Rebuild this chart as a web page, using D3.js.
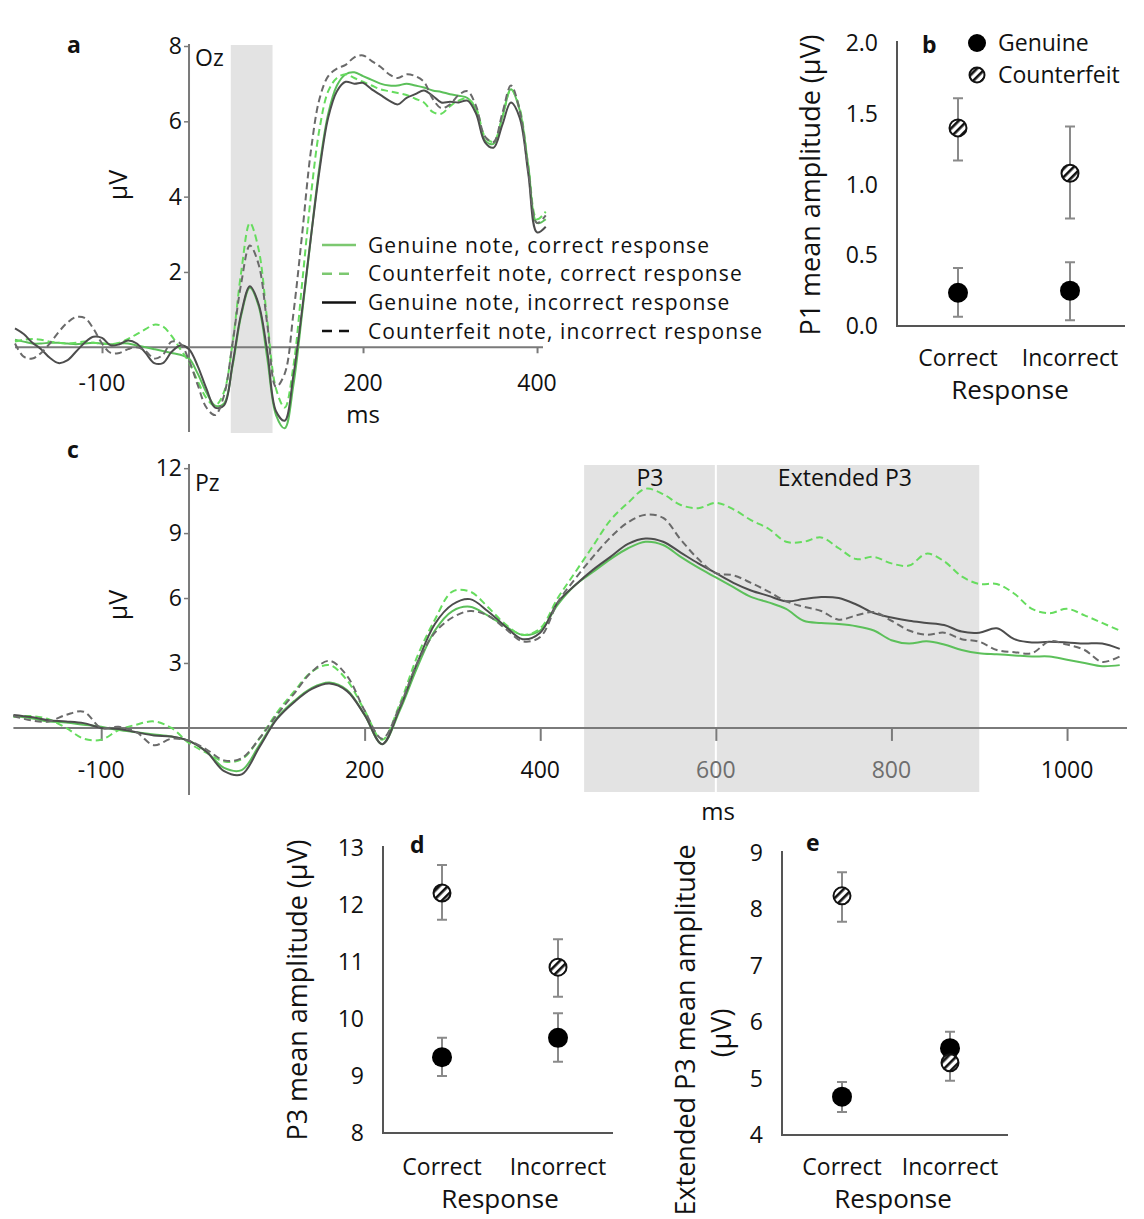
<!DOCTYPE html>
<html><head><meta charset="utf-8">
<script src="https://cdn.jsdelivr.net/npm/d3@7"></script>
<style>body{margin:0;background:#fff}svg{display:block}text{font-family:"Open Sans",sans-serif;fill:#111}</style>
</head><body><svg id="c" width="1144" height="1219"></svg>
<script>
// ---------- DATA ----------
const seriesNames = ["Genuine note, correct response","Counterfeit note, correct response","Genuine note, incorrect response","Counterfeit note, incorrect response"];
// Panel a (Oz)
const timeA = [-200,-190,-180,-170,-160,-150,-140,-130,-120,-110,-100,-90,-80,-70,-60,-50,-40,-30,-20,-10,0,10,20,30,40,50,60,70,80,90,100,110,120,130,140,150,160,170,180,190,200,210,220,230,240,250,260,270,280,290,300,310,320,330,340,350,360,370,380,390,400,410];
const ozGenCorrect = [0.2,0.15,0.1,0.1,0.12,0.12,0.1,0.08,0.1,0.12,0.1,0.08,0.1,0.1,0.05,0.0,-0.05,-0.1,-0.15,-0.2,-0.3,-0.7,-1.2,-1.55,-1.5,-0.5,0.85,1.58,1.1,-0.3,-1.8,-2.15,-1.0,0.9,2.9,4.8,6.2,6.95,7.25,7.3,7.2,7.1,7.0,6.95,6.95,7.0,6.95,6.9,6.82,6.78,6.72,6.68,6.62,6.3,5.5,5.4,6.1,6.85,6.3,4.8,3.3,3.4];
const ozCftCorrect = [0.15,0.2,0.22,0.2,0.15,0.12,0.1,0.12,0.15,0.12,0.1,0.08,0.12,0.22,0.35,0.48,0.6,0.55,0.3,-0.05,-0.4,-0.9,-1.35,-1.55,-1.2,0.1,2.0,3.3,2.6,0.7,-1.1,-1.6,-0.5,1.7,4.0,5.8,6.8,7.15,7.25,7.15,7.05,6.95,6.85,6.8,6.75,6.7,6.6,6.5,6.25,6.2,6.4,6.55,6.6,6.35,5.6,5.45,6.1,6.85,6.35,4.8,3.4,3.6];
const ozGenIncorrect = [0.5,0.35,0.12,-0.05,-0.28,-0.42,-0.35,-0.12,0.12,0.28,0.25,0.05,0.08,0.18,0.1,-0.15,-0.42,-0.42,-0.12,0.05,-0.05,-0.5,-1.1,-1.6,-1.55,-0.45,0.9,1.62,1.15,-0.12,-1.7,-1.95,-0.75,1.0,2.9,4.7,6.1,6.8,7.05,7.0,7.02,6.85,6.7,6.55,6.45,6.62,6.72,6.82,6.68,6.5,6.52,6.5,6.55,6.2,5.45,5.3,5.9,6.5,6.1,4.6,3.05,3.2];
const ozCftIncorrect = [0.1,-0.25,-0.3,-0.15,0.1,0.4,0.65,0.8,0.78,0.5,0.1,-0.15,-0.15,-0.05,0.0,-0.1,-0.3,-0.2,0.15,0.1,-0.35,-1.0,-1.6,-1.8,-1.3,0.1,1.7,2.7,2.2,0.6,-1.05,-0.7,0.9,3.0,5.2,6.6,7.2,7.4,7.5,7.7,7.75,7.6,7.45,7.25,7.15,7.25,7.2,7.05,6.6,6.35,6.45,6.7,6.8,6.4,5.6,5.45,6.2,6.95,6.3,4.7,3.3,3.5];
const ozXTicks = [-100,200,400];
const ozYTicks = [2,4,6,8];
const p1Window = [48,96];
// Panel c (Pz)
const timeC = [-200,-180,-160,-140,-120,-100,-80,-60,-40,-20,0,20,40,60,80,100,120,140,160,180,200,220,240,260,280,300,320,340,360,380,400,420,440,460,480,500,520,540,560,580,600,620,640,660,680,700,720,740,760,780,800,820,840,860,880,900,920,940,960,980,1000,1020,1040,1060];
const pzGenCorrect = [0.55,0.45,0.3,0.25,0.15,0.05,-0.1,-0.2,-0.3,-0.4,-0.6,-1.1,-1.85,-1.95,-0.8,0.45,1.25,1.85,2.1,1.75,0.6,-0.75,0.8,2.8,4.5,5.4,5.6,5.2,4.7,4.3,4.5,5.7,6.6,7.2,7.8,8.3,8.6,8.45,7.9,7.4,6.95,6.5,6.05,5.8,5.5,4.95,4.85,4.8,4.7,4.5,4.05,3.9,4.0,3.85,3.6,3.45,3.4,3.35,3.3,3.3,3.15,3.0,2.85,2.9];
const pzCftCorrect = [0.5,0.55,0.4,0.0,-0.5,-0.55,-0.1,0.15,0.3,0.0,-0.7,-1.15,-1.55,-1.45,-0.5,0.7,1.7,2.6,2.9,2.2,0.8,-0.55,1.1,3.3,5.0,6.3,6.3,5.6,4.8,4.3,4.6,6.0,7.2,8.4,9.6,10.4,11.05,10.8,10.3,10.15,10.4,10.1,9.6,9.2,8.6,8.6,8.8,8.3,7.8,7.9,7.6,7.5,8.05,7.7,7.0,6.65,6.65,6.2,5.5,5.3,5.5,5.2,4.85,4.5];
const pzGenIncorrect = [0.6,0.5,0.35,0.3,0.22,0.0,-0.05,-0.2,-0.35,-0.4,-0.6,-1.1,-2.0,-2.15,-0.9,0.4,1.2,1.8,2.05,1.7,0.6,-0.75,0.9,3.0,4.8,5.7,5.95,5.4,4.7,4.1,4.4,5.8,6.6,7.3,7.9,8.5,8.75,8.6,8.1,7.6,7.15,6.7,6.35,6.1,5.85,5.95,6.05,6.0,5.7,5.3,5.1,4.95,4.85,4.75,4.45,4.4,4.6,4.1,3.95,3.98,3.95,3.9,3.9,3.65];
const pzCftIncorrect = [0.55,0.35,0.3,0.6,0.75,0.0,0.05,-0.2,-0.8,-0.5,-0.6,-1.0,-1.5,-1.4,-0.5,0.6,1.6,2.6,3.1,2.4,0.8,-0.5,1.0,3.0,4.4,5.1,5.4,5.2,4.6,4.0,4.2,5.8,6.9,7.9,8.8,9.5,9.85,9.7,8.7,7.8,7.15,7.05,6.7,6.3,5.85,5.6,5.4,5.0,5.2,5.35,4.95,4.5,4.3,4.4,4.1,3.98,3.6,3.5,3.45,4.0,3.85,3.6,3.05,3.3];
const pzXTicks = [-100,200,400,600,800,1000];
const pzYTicks = [3,6,9,12];
const p3Window = [450,600];
const extP3Window = [600,900];
// Point panels
const responses = ["Correct","Incorrect"];
const groups = ["Genuine","Counterfeit"];
const p1Genuine = [0.235,0.25], p1GenuineLo=[0.066,0.04], p1GenuineHi=[0.41,0.45];
const p1Cft = [1.40,1.08], p1CftLo=[1.17,0.76], p1CftHi=[1.61,1.41];
const p1Ticks = [0.0,0.5,1.0,1.5,2.0];
const p3Genuine = [9.33,9.67], p3GenuineLo=[9.0,9.25], p3GenuineHi=[9.67,10.1];
const p3Cft = [12.21,10.91], p3CftLo=[11.74,10.39], p3CftHi=[12.70,11.40];
const p3Ticks = [8,9,10,11,12,13];
const exGenuine = [4.68,5.54], exGenuineLo=[4.41,5.25], exGenuineHi=[4.94,5.83];
const exCft = [8.24,5.28], exCftLo=[7.78,4.96], exCftHi=[8.66,5.60];
const exTicks = [4,5,6,7,8,9];

// ---------- STYLE ----------
const colors = ["#5cc05a","#66dc5e","#4d4d4d","#6a6a6a"];
const dashes = [null,"7,4",null,"7,4"];
const axisCol = "#7a7a7a";
const FS = 23;
const svg = d3.select("#c");
const defs = svg.append("defs");
const pat = defs.append("pattern").attr("id","hatch").attr("patternUnits","userSpaceOnUse")
  .attr("width",6).attr("height",6).attr("patternTransform","rotate(45)");
pat.append("rect").attr("width",6).attr("height",6).attr("fill","#fff");
pat.append("rect").attr("x",0).attr("width",2.6).attr("height",6).attr("fill","#111");

function txt(g,x,y,s,o={}){
  const t=g.append("text").attr("x",x).attr("y",y).text(s)
   .attr("font-size",o.size||FS).attr("text-anchor",o.anchor||"start");
  if(o.weight) t.attr("font-weight",o.weight);
  if(o.fill) t.style("fill",o.fill);
  if(o.ls) t.attr("letter-spacing",o.ls);
  if(o.rot) t.attr("transform",`rotate(-90,${x},${y})`);
  return t;
}

// ---------- ERP panel ----------
function erp(cfg){
  const g = svg.append("g");
  const x = d3.scaleLinear().domain(cfg.xd).range(cfg.xr);
  const y = d3.scaleLinear().domain(cfg.yd).range(cfg.yr);
  cfg.windows.forEach(w=>{
    g.append("rect").attr("x",x(w[0])).attr("width",x(w[1])-x(w[0]))
      .attr("y",cfg.shadeTop).attr("height",cfg.shadeBot-cfg.shadeTop).attr("fill","#e3e3e3");
  });
  if(cfg.divider!=null) g.append("line").attr("x1",x(cfg.divider)).attr("x2",x(cfg.divider))
      .attr("y1",cfg.shadeTop).attr("y2",cfg.shadeBot).attr("stroke","#fff").attr("stroke-width",2);
  const xa = g.append("g").attr("transform",`translate(0,${y(0)})`)
    .call(d3.axisBottom(x).tickValues(cfg.xticks).tickSize(cfg.xtick).tickFormat(""));
  xa.select(".domain").attr("d",`M${cfg.xr[0]},0H${cfg.xaxisEnd}`).attr("stroke",axisCol).attr("stroke-width",2);
  xa.selectAll(".tick line").attr("stroke",axisCol).attr("stroke-width",2);
  cfg.xticks.forEach(v=>txt(g,x(v),cfg.xlabY,String(v),{anchor:"middle",fill:(cfg.grayTicks||[]).includes(v)?"#6e6e6e":"#111"}));
  const ya = g.append("g").attr("transform",`translate(${x(0)},0)`)
    .call(d3.axisLeft(y).tickValues(cfg.yticks).tickSize(5).tickFormat(""));
  ya.select(".domain").attr("d",`M0,${cfg.yr[1]-2}V${cfg.yr[0]}`).attr("stroke",axisCol).attr("stroke-width",2);
  ya.selectAll(".tick line").attr("stroke",axisCol).attr("stroke-width",1.5);
  cfg.yticks.forEach(v=>txt(g,x(0)-7,y(v)+8,String(v),{anchor:"end"}));
  const line = d3.line().x((d,i)=>x(cfg.t[i])).y(d=>y(d)).curve(d3.curveCatmullRom.alpha(0.5));
  cfg.series.forEach((s,i)=>{
    g.append("path").datum(s).attr("d",line).attr("fill","none")
      .attr("stroke",colors[i]).attr("stroke-width",2).attr("stroke-dasharray",dashes[i]);
  });
  return {x,y,g};
}

const A = erp({xd:[-200,408],xr:[15,544],yd:[-2.25,8],yr:[432,46],t:timeA,
  series:[ozGenCorrect,ozCftCorrect,ozGenIncorrect,ozCftIncorrect],
  windows:[p1Window],shadeTop:45,shadeBot:433,xticks:ozXTicks,yticks:ozYTicks,xtick:6,xlabY:391,xaxisEnd:543});
txt(svg,67,53,"a",{weight:"bold",size:23});
txt(svg,195,66,"Oz");
txt(svg,127,185,"µV",{size:25,anchor:"middle",rot:true});
txt(svg,363,423,"ms",{anchor:"middle",size:24});
seriesNames.forEach((n,i)=>{
  const yy = 245 + i*28.7;
  svg.append("line").attr("x1",322).attr("x2",356).attr("y1",yy).attr("y2",yy)
    .attr("stroke",i<2?"#7cc870":"#111").attr("stroke-width",2.5).attr("stroke-dasharray",dashes[i]?"10,7":null);
  txt(svg,368,yy+7.5,n,{size:21,ls:1.1});
});

const C = erp({xd:[-200,1066],xr:[13.4,1125],yd:[-3.1,12.1],yr:[795,466],t:timeC,
  series:[pzGenCorrect,pzCftCorrect,pzGenIncorrect,pzCftIncorrect],
  windows:[[p3Window[0],extP3Window[1]]],divider:p3Window[1],shadeTop:465,shadeBot:792,
  xticks:pzXTicks,yticks:pzYTicks,xtick:13,xlabY:778,xaxisEnd:1127,grayTicks:[600,800]});
txt(svg,67,458,"c",{weight:"bold",size:23});
txt(svg,195,491,"Pz");
txt(svg,127,605,"µV",{size:25,anchor:"middle",rot:true});
txt(svg,718,820,"ms",{anchor:"middle",size:24});
txt(svg,C.x((p3Window[0]+p3Window[1])/2),486,"P3",{anchor:"middle"});
txt(svg,C.x((extP3Window[0]+extP3Window[1])/2-3),486,"Extended P3",{anchor:"middle"});

// ---------- point panels ----------
function points(cfg){
  const g = svg.append("g");
  const y = d3.scaleLinear().domain(cfg.yd).range(cfg.yr);
  const x = d3.scalePoint().domain(responses).range(cfg.cx);
  g.append("path").attr("d",`M${cfg.ax},${cfg.yr[1]-2}V${cfg.yr[0]}H${cfg.axEnd}`)
    .attr("fill","none").attr("stroke","#555").attr("stroke-width",2);
  cfg.ticks.forEach(v=>txt(g,cfg.ax-19,y(v)+8,cfg.fmt(v),{anchor:"end"}));
  responses.forEach(r=>txt(g,x(r),cfg.catY,r,{anchor:"middle"}));
  txt(g,cfg.respX,cfg.catY+33,"Response",{anchor:"middle",size:26});
  const sets=[[cfg.gen,cfg.genLo,cfg.genHi,"gen"],[cfg.cft,cfg.cftLo,cfg.cftHi,"cft"]];
  sets.forEach(([m,lo,hi,k])=>{
    responses.forEach((r,i)=>{
      const cx=x(r);
      g.append("path").attr("d",`M${cx-5},${y(hi[i])}H${cx+5}M${cx},${y(hi[i])}V${y(lo[i])}M${cx-5},${y(lo[i])}H${cx+5}`)
        .attr("stroke","#8a8a8a").attr("stroke-width",2).attr("fill","none");
    });
  });
  sets.forEach(([m,lo,hi,k])=>{
    responses.forEach((r,i)=>{
      const c=g.append("circle").attr("cx",x(r)).attr("cy",y(m[i]));
      if(k==="gen") c.attr("r",10).attr("fill","#000");
      else c.attr("r",8.5).attr("fill","url(#hatch)").attr("stroke","#111").attr("stroke-width",2);
    });
  });
  return g;
}
const f1 = d3.format(".1f");
points({yd:[0,2],yr:[326,43],cx:[958,1070],ax:897,axEnd:1125,ticks:p1Ticks,fmt:f1,catY:366,respX:1010,
  gen:p1Genuine,genLo:p1GenuineLo,genHi:p1GenuineHi,cft:p1Cft,cftLo:p1CftLo,cftHi:p1CftHi});
txt(svg,922,53,"b",{weight:"bold",size:23});
txt(svg,820,185,"P1 mean amplitude (µV)",{size:27,anchor:"middle",rot:true});
svg.append("circle").attr("cx",977).attr("cy",43).attr("r",9).attr("fill","#000");
txt(svg,998,51,groups[0]);
svg.append("circle").attr("cx",977).attr("cy",75).attr("r",7.5).attr("fill","url(#hatch)").attr("stroke","#111").attr("stroke-width",2);
txt(svg,998,83,groups[1]);

points({yd:[8,13],yr:[1133,848],cx:[442,558],ax:383,axEnd:613,ticks:p3Ticks,fmt:String,catY:1175,respX:500,
  gen:p3Genuine,genLo:p3GenuineLo,genHi:p3GenuineHi,cft:p3Cft,cftLo:p3CftLo,cftHi:p3CftHi});
txt(svg,410,853,"d",{weight:"bold",size:23});
txt(svg,307,990,"P3 mean amplitude (µV)",{size:27,anchor:"middle",rot:true});

points({yd:[4,9],yr:[1135,853],cx:[842,950],ax:782,axEnd:1008,ticks:exTicks,fmt:String,catY:1175,respX:893,
  gen:exGenuine,genLo:exGenuineLo,genHi:exGenuineHi,cft:exCft,cftLo:exCftLo,cftHi:exCftHi});
txt(svg,806,851,"e",{weight:"bold",size:23});
txt(svg,695,1030,"Extended P3 mean amplitude",{size:27,anchor:"middle",rot:true});
txt(svg,731,1033,"(µV)",{size:27,anchor:"middle",rot:true});
</script></body></html>
